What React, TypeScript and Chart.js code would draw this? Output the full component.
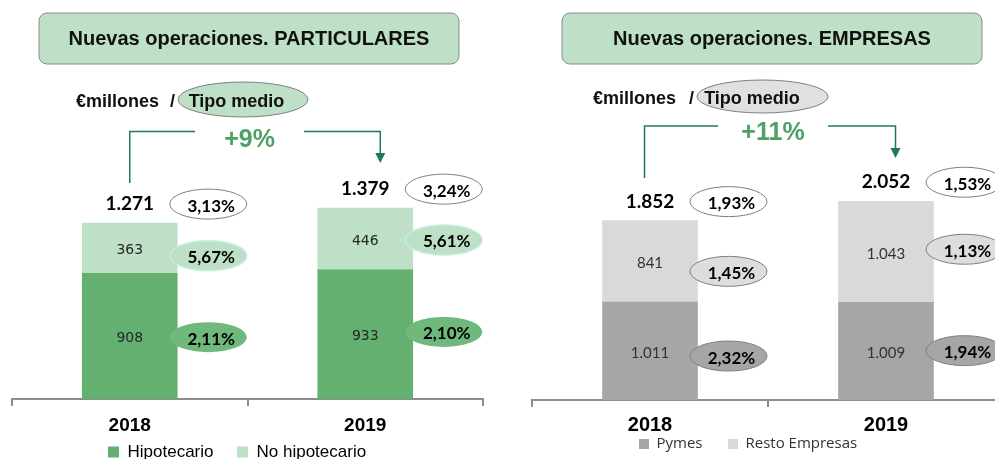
import React, { useEffect, useRef } from "react";
import { Chart, registerables } from "chart.js";

Chart.register(...registerables);

// ---------------- Data ----------------
const years = ["2018", "2019"];

const partHipotecario = [908, 933];
const partNoHipotecario = [363, 446];
const partTotals = [1271, 1379];
const partRateTotal = ["3,13%", "3,24%"];
const partRateHipotecario = ["2,11%", "2,10%"];
const partRateNoHipotecario = ["5,67%", "5,61%"];
const partGrowth = "+9%";

const empPymes = [1011, 1009];
const empResto = [841, 1043];
const empTotals = [1852, 2052];
const empRateTotal = ["1,93%", "1,53%"];
const empRatePymes = ["2,32%", "1,94%"];
const empRateResto = ["1,45%", "1,13%"];
const empGrowth = "+11%";

const fmt = (n: number) => String(n).replace(/\B(?=(\d{3})+(?!\d))/g, ".");

// ---------------- Drawing helpers ----------------
function roundRectPath(ctx: CanvasRenderingContext2D, x: number, y: number, w: number, h: number, r: number) {
  ctx.beginPath();
  ctx.moveTo(x + r, y);
  ctx.lineTo(x + w - r, y);
  ctx.arcTo(x + w, y, x + w, y + r, r);
  ctx.lineTo(x + w, y + h - r);
  ctx.arcTo(x + w, y + h, x + w - r, y + h, r);
  ctx.lineTo(x + r, y + h);
  ctx.arcTo(x, y + h, x, y + h - r, r);
  ctx.lineTo(x, y + r);
  ctx.arcTo(x, y, x + r, y, r);
  ctx.closePath();
}

function drawEllipse(ctx: CanvasRenderingContext2D, cx: number, cy: number, rx: number, ry: number, fill: string | null, stroke: string | null, lw = 1) {
  ctx.beginPath();
  ctx.ellipse(cx, cy, rx, ry, 0, 0, Math.PI * 2);
  if (fill) {
    ctx.fillStyle = fill;
    ctx.fill();
  }
  if (stroke) {
    ctx.strokeStyle = stroke;
    ctx.lineWidth = lw;
    ctx.stroke();
  }
}

function makeDeco(cfg: any) {
  return {
    id: "deco",
    afterLayout(chart: any) {
      const lg = chart.legend;
      if (!lg) return;
      const p = cfg.legendPad;
      const h = lg.height;
      const top = cfg.legendCenterY - p - cfg.legendFontSize / 2;
      lg.top = top;
      lg.bottom = top + h;
      const lw = lg.lineWidths ? lg.lineWidths[0] : 0;
      const x0 = (lg.left + p + lg.right - lw) / 2;
      const dx = cfg.legendBoxX - x0;
      lg.left += dx;
      lg.right += dx;
    },
    afterDraw(chart: any) {
      const ctx: CanvasRenderingContext2D = chart.ctx;
      ctx.save();

      // Title box
      const [bx0, by0, bx1, by1] = cfg.titleBox;
      roundRectPath(ctx, bx0, by0, bx1 - bx0, by1 - by0, 8);
      ctx.fillStyle = "#bde0c6";
      ctx.fill();
      ctx.strokeStyle = "#8c8c8c";
      ctx.lineWidth = 1;
      ctx.stroke();
      ctx.fillStyle = "#111111";
      ctx.font = "bold 20px 'Liberation Sans', Arial, sans-serif";
      ctx.textAlign = "center";
      ctx.textBaseline = "middle";
      ctx.fillText(cfg.title, (bx0 + bx1) / 2, (by0 + by1) / 2 + 1);

      // Unit line
      const te = cfg.tipoEllipse;
      drawEllipse(ctx, te[0], te[1], te[2], te[3], cfg.tipoFill, "#7f7f7f", 1);
      ctx.font = "bold 18px 'Liberation Sans', Arial, sans-serif";
      ctx.fillStyle = "#111111";
      ctx.textAlign = "left";
      ctx.fillText("€millones", cfg.unitX, cfg.unitY);
      ctx.fillText("/", cfg.slashX, cfg.unitY);
      ctx.textAlign = "center";
      ctx.fillText("Tipo medio", cfg.tipoTextX, cfg.unitY);

      const m0 = chart.getDatasetMeta(0);
      const m1 = chart.getDatasetMeta(1);

      // Growth bracket
      const leftX = m0.data[0].x + cfg.leftDx;
      const arrowX = m0.data[1].x + cfg.arrowDx;
      ctx.strokeStyle = "#1f7a55";
      ctx.lineWidth = 1.5;
      ctx.beginPath();
      ctx.moveTo(leftX, cfg.vBottom);
      ctx.lineTo(leftX, cfg.lineY);
      ctx.lineTo(cfg.growthX - cfg.gapHalf, cfg.lineY);
      ctx.moveTo(cfg.growthX + cfg.gapHalf, cfg.lineY);
      ctx.lineTo(arrowX, cfg.lineY);
      ctx.lineTo(arrowX, cfg.arrowTip - 9);
      ctx.stroke();
      ctx.fillStyle = "#1f7a55";
      ctx.beginPath();
      ctx.moveTo(arrowX - 5, cfg.arrowTip - 10);
      ctx.lineTo(arrowX + 5, cfg.arrowTip - 10);
      ctx.lineTo(arrowX, cfg.arrowTip);
      ctx.closePath();
      ctx.fill();
      ctx.fillStyle = "#4ea066";
      ctx.font = "bold 25px 'Liberation Sans', Arial, sans-serif";
      ctx.textAlign = "center";
      ctx.fillText(cfg.growth, cfg.growthX, cfg.growthY);

      const rx = 38.5, ry = 15;
      // Totals
      for (let i = 0; i < cfg.totals.length; i++) {
        const el = m1.data[i];
        const y = el.y - 19;
        ctx.fillStyle = "#000000";
        ctx.font = "bold 19px Lato, 'Liberation Sans', sans-serif";
        ctx.textAlign = "center";
        ctx.fillText(fmt(cfg.totals[i]), el.x, y);
        const ex = el.x + el.width / 2 + 31;
        drawEllipse(ctx, ex, y, rx, ry, "#ffffff", "#7f7f7f", 1);
        ctx.fillStyle = "#000000";
        ctx.font = "bold 17px Lato, 'Liberation Sans', sans-serif";
        ctx.fillText(cfg.totalRates[i], ex + 3, y + 2);
      }

      // Segments
      [m0, m1].forEach((meta: any, d: number) => {
        const values = chart.data.datasets[d].data;
        const st = cfg.rateStyles[d];
        meta.data.forEach((el: any, i: number) => {
          const cy = (el.y + el.base) / 2;
          ctx.fillStyle = cfg.inBarColor;
          ctx.font = cfg.inBarFont;
          ctx.textAlign = "center";
          ctx.fillText(fmt(values[i]), el.x, cy + 2);
          const ex = el.x + el.width / 2 + 31;
          const ey = cy + cfg.rateDy[d][i];
          drawEllipse(ctx, ex, ey, rx, ry, st.fill, st.stroke, st.lw);
          ctx.fillStyle = "#000000";
          ctx.font = "bold 17px Lato, 'Liberation Sans', sans-serif";
          ctx.fillText(cfg.rates[d][i], ex + 3, ey + 2);
        });
      });

      ctx.restore();
    },
  };
}

function buildOptions(o: any) {
  return {
    responsive: false,
    animation: false,
    devicePixelRatio: 1,
    events: [],
    layout: { padding: { left: o.padL, right: o.padR, top: o.padT, bottom: o.padB } },
    datasets: { bar: { barThickness: 95 } },
    plugins: {
      legend: {
        position: "bottom",
        labels: {
          boxWidth: o.box,
          boxHeight: o.box,
          padding: o.legendPad,
          color: o.legendColor,
          font: o.legendFont,
        },
      },
      tooltip: { enabled: false },
      title: { display: false },
    },
    scales: {
      x: {
        stacked: true,
        grid: {
          display: true,
          drawOnChartArea: false,
          drawTicks: true,
          tickLength: 7,
          color: "#8c8c8c",
          lineWidth: 2,
          offset: true,
        },
        border: { display: true, color: "#8c8c8c", width: 2 },
        ticks: {
          color: "#000000",
          padding: o.tickPad,
          font: { family: "'Liberation Sans', Arial, sans-serif", size: o.yearSize, weight: "bold" },
        },
      },
      y: { stacked: true, display: false, min: 0, max: o.max },
    },
  };
}

export default function App() {
  const leftRef = useRef<HTMLCanvasElement>(null);
  const rightRef = useRef<HTMLCanvasElement>(null);

  useEffect(() => {
    Chart.defaults.font.family = "'Liberation Sans', Arial, sans-serif";

    const left = new Chart(leftRef.current as HTMLCanvasElement, {
      type: "bar",
      data: {
        labels: years,
        datasets: [
          { label: "Hipotecario", data: partHipotecario, backgroundColor: "#63b071", borderWidth: 0 },
          { label: "No hipotecario", data: partNoHipotecario, backgroundColor: "#bde0c6", borderWidth: 0 },
        ],
      },
      options: buildOptions({
        padL: 12, padR: 12, padT: 53, padB: 4.7, max: 2500,
        box: 11, legendPad: 23.5, legendColor: "#000000",
        legendFont: { family: "'Liberation Sans', Arial, sans-serif", size: 17 },
        tickPad: 8, yearSize: 19,
      }) as any,
      plugins: [
        makeDeco({
          legendPad: 23.5, legendFontSize: 17, legendCenterY: 452, legendBoxX: 108,
          title: "Nuevas operaciones. PARTICULARES",
          titleBox: [39, 13, 459, 64],
          tipoEllipse: [243, 99.5, 65, 17.5],
          tipoFill: "#bde0c6",
          unitX: 76, slashX: 170, tipoTextX: 236.5, unitY: 102,
          leftDx: 0, arrowDx: 15, vBottom: 183, lineY: 131.5, arrowTip: 163,
          growth: partGrowth, growthX: 249.5, growthY: 140, gapHalf: 54.5,
          totals: partTotals, totalRates: partRateTotal,
          rates: [partRateHipotecario, partRateNoHipotecario],
          rateDy: [[1, -2.5], [7.5, 1]],
          rateStyles: [
            { fill: "#6fb97d", stroke: null, lw: 0 },
            { fill: "#bde0c6", stroke: "#c6eee2", lw: 1.5 },
          ],
          inBarFont: "14px 'DejaVu Sans', sans-serif",
          inBarColor: "#262626",
        }),
      ],
    });

    const right = new Chart(rightRef.current as HTMLCanvasElement, {
      type: "bar",
      data: {
        labels: years,
        datasets: [
          { label: "Pymes", data: empPymes, backgroundColor: "#a6a6a6", borderWidth: 0 },
          { label: "Resto Empresas", data: empResto, backgroundColor: "#d9d9d9", borderWidth: 0 },
        ],
      },
      options: buildOptions({
        padL: 37, padR: 11, padT: 61, padB: 6.5, max: 3500,
        box: 10, legendPad: 25.5, legendColor: "#333333",
        legendFont: { family: "'Open Sans', sans-serif", size: 15 },
        tickPad: 6, yearSize: 20,
      }) as any,
      plugins: [
        makeDeco({
          legendPad: 25.5, legendFontSize: 15, legendCenterY: 444, legendBoxX: 144,
          title: "Nuevas operaciones. EMPRESAS",
          titleBox: [67, 13, 487, 64],
          tipoEllipse: [267.5, 96.5, 65.5, 16.5],
          tipoFill: "#e0e0e0",
          unitX: 98, slashX: 194, tipoTextX: 257, unitY: 99,
          leftDx: -5.5, arrowDx: 9.5, vBottom: 178, lineY: 126, arrowTip: 158,
          growth: empGrowth, growthX: 278, growthY: 133, gapHalf: 55,
          totals: empTotals, totalRates: empRateTotal,
          rates: [empRatePymes, empRateResto],
          rateDy: [[5, -0.5], [10, -2.5]],
          rateStyles: [
            { fill: "#a6a6a6", stroke: "#7f7f7f", lw: 1 },
            { fill: "#dddddd", stroke: "#7f7f7f", lw: 1 },
          ],
          inBarFont: "15px Lato, sans-serif",
          inBarColor: "#333333",
        }),
      ],
    });

    return () => {
      left.destroy();
      right.destroy();
    };
  }, []);

  return (
    <div
      style={{
        position: "fixed",
        left: 0,
        top: 0,
        width: 995,
        height: 459,
        overflow: "hidden",
        background: "#ffffff",
      }}
    >
      <canvas ref={leftRef} width={495} height={500} style={{ position: "absolute", left: 0, top: 0 }} />
      <canvas ref={rightRef} width={520} height={500} style={{ position: "absolute", left: 495, top: 0 }} />
    </div>
  );
}
